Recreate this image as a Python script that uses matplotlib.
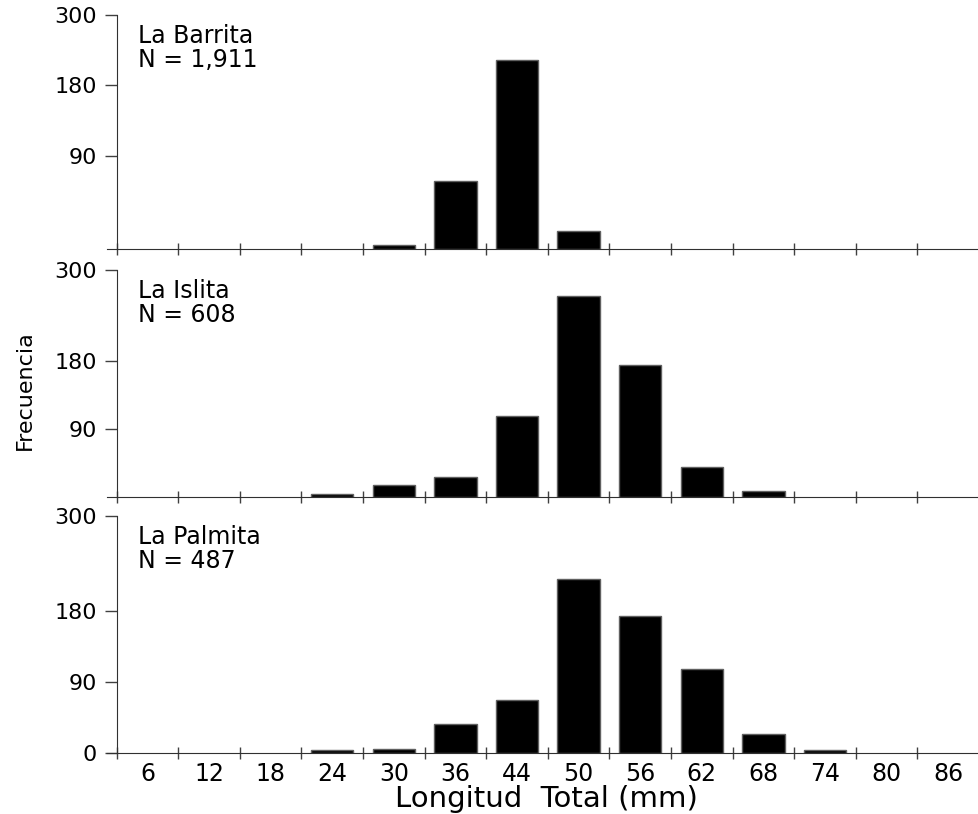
import numpy as np
import matplotlib.pyplot as plt

plt.rcParams['font.family'] = ['DejaVu Sans']

# clases de longitud total (mm) y frecuencias por sitio
clases = ['6', '12', '18', '24', '30', '36', '44', '50', '56', '62', '68', '74', '80', '86']
barrita = [0, 0, 0, 0, 4, 66, 222, 18, 0, 0, 0, 0, 0, 0]
islita = [0, 0, 0, 4, 15, 26, 107, 265, 174, 39, 8, 0, 0, 0]
palmita = [0, 0, 0, 4, 6, 37, 67, 220, 174, 106, 25, 4, 0, 0]
sitios = ['La Barrita\nN = 1,911', 'La Islita\nN = 608', 'La Palmita\nN = 487']

# el panel de arriba tiene las marcas del eje y desigualmente espaciadas
eje_v = [0, 90, 180, 300]
eje_px = [0, 93.6, 164.3, 234.6]


def ida(v):
    return np.interp(v, eje_v, eje_px)


def vuelta(p):
    return np.interp(p, eje_px, eje_v)


fig = plt.figure(figsize=(9.79, 8.14), dpi=100)

izq = 107 / 979
ancho = 1 - izq
rects = [
    [izq, 1 - 249.3 / 814, ancho, 234.6 / 814],
    [izq, 1 - 496.7 / 814, ancho, 226.7 / 814],
    [izq, 1 - 753.3 / 814, ancho, 237.3 / 814],
]
datos = [barrita, islita, palmita]
x = np.arange(len(clases))

for i in range(3):
    ax = fig.add_axes(rects[i])
    if i == 0:
        ax.set_yscale('function', functions=(ida, vuelta))
    # las barras vacias no llevan borde
    bordes = [1 if v > 0 else 0 for v in datos[i]]
    ax.bar(x, datos[i], width=0.69, color='black', edgecolor='#606060',
           linewidth=bordes)
    ax.set_xlim(-0.656, 13.39)
    ax.set_ylim(0, 300)

    for s in ['top', 'right']:
        ax.spines[s].set_visible(False)
    ax.spines['left'].set_position(('data', -0.5))
    ax.spines['left'].set_color('#303030')
    ax.spines['bottom'].set_color('#303030')
    ax.spines['left'].set_zorder(3)
    ax.spines['bottom'].set_zorder(3)

    if i == 2:
        ax.set_yticks([0, 90, 180, 300])
    else:
        ax.set_yticks([90, 180, 300])
    ax.yaxis.set_minor_locator(plt.NullLocator())
    ax.tick_params(axis='y', direction='out', length=9, width=1,
                   color='#404040', labelsize=16, pad=5)

    ax.set_xticks(np.arange(-0.5, 14, 1))
    ax.set_xticklabels([])
    ax.set_xticks(x, minor=True)
    if i == 2:
        ax.set_xticklabels(clases, minor=True)
    else:
        ax.set_xticklabels([], minor=True)
    ax.tick_params(axis='x', which='major', direction='inout', length=9,
                   width=1, color='#404040')
    ax.tick_params(axis='x', which='minor', length=0, labelsize=17, pad=6)

    ax.text(0.035, 0.96, sitios[i], transform=ax.transAxes, ha='left',
            va='top', fontsize=17, linespacing=1.0)

fig.text(25 / 979, 1 - 390 / 814, 'Frecuencia', rotation=90,
         ha='center', va='center', fontsize=16)
fig.text(546.7 / 979, 1 - 799 / 814, 'Longitud  Total (mm)',
         ha='center', va='center', fontsize=21)

fig.savefig('out.png', dpi=100)
